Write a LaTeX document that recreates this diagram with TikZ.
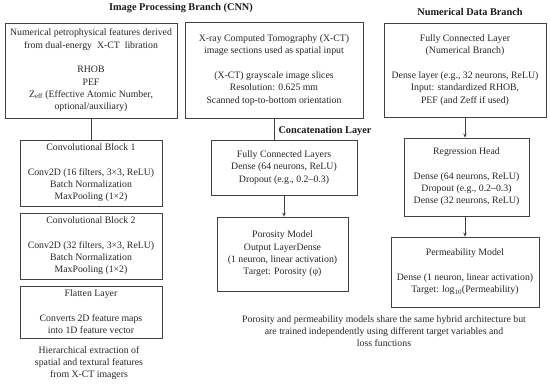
\documentclass[tikz,border=0pt]{standalone}
\usepackage{fontspec}
\setmainfont{Liberation Serif}
\usetikzlibrary{arrows.meta}
\newcommand{\fsz}{\fontsize{9.8}{12.3}\selectfont}
\newcommand{\tsz}{\fontsize{10.3}{12.3}\selectfont}
\begin{document}
\begin{tikzpicture}[x=1pt,y=-1pt,
  box/.style={draw=black!75, line width=0.8pt, align=center, inner sep=0pt, font=\fsz, text=black!85},
  lbl/.style={align=center, inner sep=0pt, font=\fsz, text=black!85},
  ttl/.style={inner sep=0pt, font=\tsz\bfseries, text=black!90},
  conn/.style={draw=black!75, line width=0.8pt},
  arr/.style={conn, -{Stealth[length=4pt,width=3.5pt]}}]
\useasboundingbox (0,0) rectangle (550,384);
% titles
\node[ttl] (t1) at (181,8) {Image Processing Branch (CNN)};
\node[ttl] (t2) at (470,12) {Numerical Data Branch};
\node[ttl] (t3) at (325,131) {Concatenation Layer};
% left column
\node[box, minimum width=172pt, minimum height=95pt] (A) at (91,70.5)
  {Numerical petrophysical features derived\\from dual-energy\ \ X-CT\ \ libration\\[12.3pt]RHOB\\PEF\\Z\textsubscript{eff} (Effective Atomic Number,\\optional/auxiliary)};
\node[box, minimum width=142pt, minimum height=66pt] (CB1) at (91,173)
  {Convolutional Block 1\\[12.3pt]Conv2D (16 filters, 3×3, ReLU)\\Batch Normalization\\MaxPooling (1×2)};
\node[box, minimum width=142pt, minimum height=66pt] (CB2) at (91,246)
  {Convolutional Block 2\\[12.3pt]Conv2D (32 filters, 3×3, ReLU)\\Batch Normalization\\MaxPooling (1×2)};
\node[box, minimum width=142pt, minimum height=52pt] (FL) at (91,312)
  {Flatten Layer\\[12.3pt]Converts 2D feature maps\\into 1D feature vector};
\node[lbl] (cap1) at (89,363)
  {Hierarchical extraction of\\spatial and textural features\\from X-CT imagers};
% middle column
\node[box, minimum width=178pt, minimum height=96pt] (B) at (274,70)
  {X-ray Computed Tomography (X-CT)\\image sections used as spatial input\\[12.3pt](X-CT) grayscale image slices\\Resolution: 0.625 mm\\Scanned top-to-bottom orientation};
\node[box, minimum width=146pt, minimum height=55pt] (FC) at (284,167.5)
  {Fully Connected Layers\\Dense (64 neurons, ReLU)\\Dropout (e.g., 0.2–0.3)};
\node[box, minimum width=131pt, minimum height=74pt] (PM) at (282.5,254)
  {Porosity Model\\Output LayerDense\\(1 neuron, linear activation)\\Target: Porosity (φ)};
% right column
\node[box, minimum width=162pt, minimum height=94pt] (C) at (465,70)
  {Fully Connected Layer\\(Numerical Branch)\\[12.3pt]Dense layer (e.g., 32 neurons, ReLU)\\Input: standardized RHOB,\\PEF (and Zeff if used)};
\node[box, minimum width=125pt, minimum height=78pt] (RH) at (466.5,177)
  {Regression Head\\[12.3pt]Dense (64 neurons, ReLU)\\Dropout (e.g., 0.2–0.3)\\Dense (32 neurons, ReLU)};
\node[box, minimum width=148pt, minimum height=70pt] (PerM) at (465,272)
  {Permeability Model\\[12.3pt]Dense (1 neuron, linear activation)\\Target: log\textsubscript{10}(Permeability)};
\node[lbl] (note) at (384,331)
  {Porosity and permeability models share the same hybrid architecture but\\are trained independently using different target variables and\\loss functions};
% connectors
\draw[conn] (A.south) -- (CB1.north);
\draw[conn] (B.south) -- (B.south |- FC.north);
\draw[arr] (FC.south) -- (FC.south |- PM.north);
\draw[arr] (C.south) -- (C.south |- RH.north);
\draw[arr] (PerM.north |- RH.south) -- (PerM.north);
\end{tikzpicture}
\end{document}
